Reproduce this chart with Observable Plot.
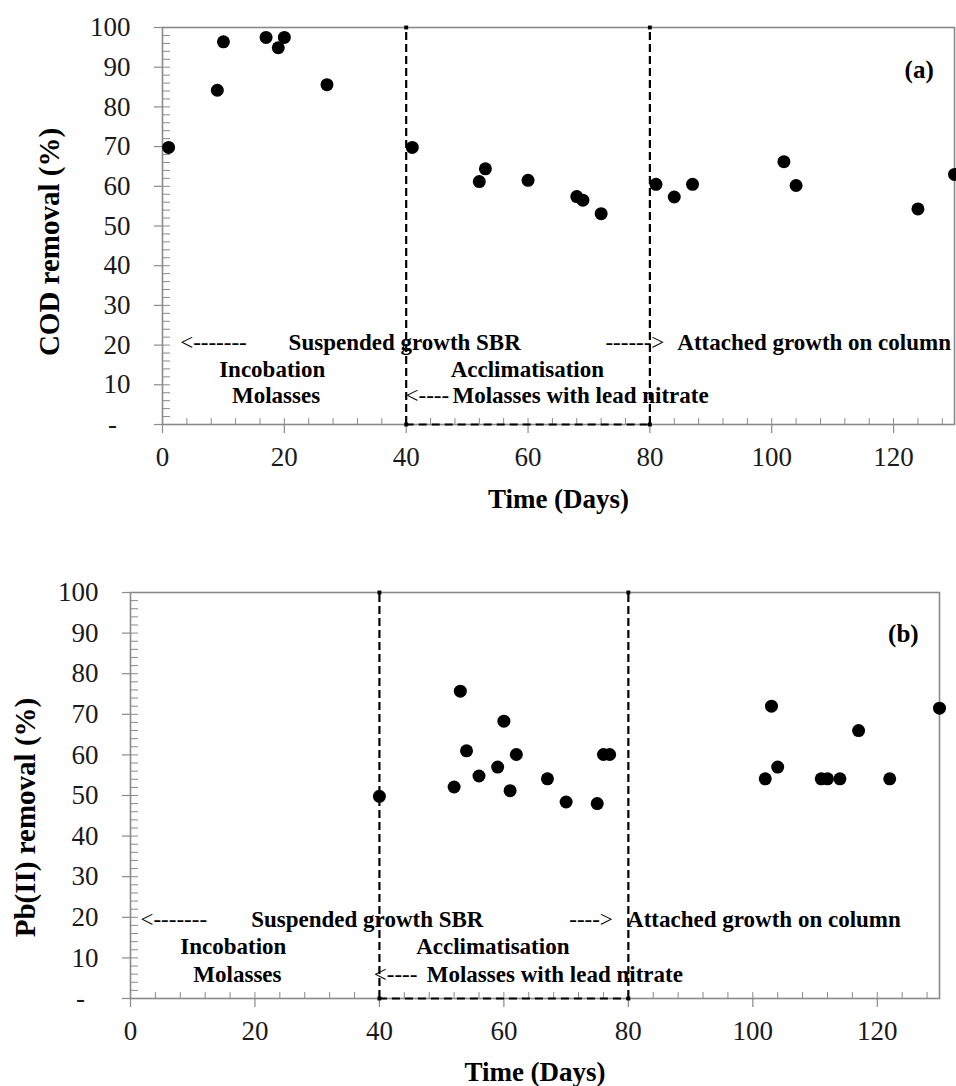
<!DOCTYPE html>
<html>
<head>
<meta charset="utf-8">
<script src="https://cdn.jsdelivr.net/npm/d3@7"></script>
<script src="https://cdn.jsdelivr.net/npm/@observablehq/plot@0.6"></script>
<style>
  html, body { margin: 0; padding: 0; background: #ffffff; }
  #chart svg { display: block; }
</style>
</head>
<body>
<div id="chart"></div>
<script>
// ---- Data ----
const codDays    = [1, 9, 10, 17, 19, 20, 27, 41, 52, 53, 60, 68, 69, 72, 81, 84, 87, 102, 104, 124, 130];
const codRemoval = [69.8, 84.2, 96.4, 97.5, 94.9, 97.5, 85.6, 69.8, 61.2, 64.4, 61.5, 57.4, 56.5, 53.1, 60.5, 57.3, 60.5, 66.2, 60.2, 54.3, 63.0];

const pbDays    = [40, 52, 53, 54, 56, 59, 60, 61, 62, 67, 70, 75, 76, 77, 102, 103, 104, 111, 112, 114, 117, 122, 130];
const pbRemoval = [49.8, 52.1, 75.7, 61.0, 54.8, 57.0, 68.3, 51.2, 60.1, 54.1, 48.4, 48.0, 60.1, 60.1, 54.1, 72.0, 57.0, 54.1, 54.1, 54.1, 66.0, 54.1, 71.5];

const phaseBoundaries = [40, 80];
const xTicks = [0, 20, 40, 60, 80, 100, 120];
const xMinorTicks = d3.range(0, 131, 4);
const yTicks = [0, 10, 20, 30, 40, 50, 60, 70, 80, 90, 100];
const yTickLabels = ["-\u2002", "10", "20", "30", "40", "50", "60", "70", "80", "90", "100"];
const yMinorTicks = d3.range(0, 101, 2);

// annotation texts (phase descriptions), data coordinates
const codBoldNotes = [
  {text: "Suspended growth SBR", x: 20.7, y: 20.5},
  {text: "Attached growth on column", x: 84.5, y: 20.5},
  {text: "Incobation", x: 9.3, y: 13.9},
  {text: "Molasses", x: 11.4, y: 7.2},
  {text: "Acclimatisation", x: 47.3, y: 13.9},
  {text: "Molasses with lead nitrate", x: 47.6, y: 7.2}
];
const codArrowNotes = [
  {text: "<-------", x: 2.9, y: 20.5},
  {text: "------>", x: 72.7, y: 20.5},
  {text: "<----", x: 39.9, y: 7.2}
];
const pbBoldNotes = [
  {text: "Suspended growth SBR", x: 19.4, y: 19.4},
  {text: "Attached growth on column", x: 79.8, y: 19.4},
  {text: "Incobation", x: 8.0, y: 12.7},
  {text: "Molasses", x: 10.1, y: 6.0},
  {text: "Acclimatisation", x: 45.9, y: 12.7},
  {text: "Molasses with lead nitrate", x: 47.6, y: 6.0}
];
const pbArrowNotes = [
  {text: "<-------", x: 1.6, y: 19.4},
  {text: "---->", x: 70.5, y: 19.4},
  {text: "<----", x: 39.1, y: 6.0}
];

// ---- Styling ----
const GREY = "#8a8a8a";
const INK = "#1a1a1a";
const FONT = "'Liberation Serif', 'Times New Roman', serif";

function panel(cfg) {
  const pts = cfg.days.map((d, i) => ({day: d, value: cfg.values[i]}));
  const corners = phaseBoundaries.flatMap(b => [{x: b, y: 0}, {x: b, y: 100}]);
  return Plot.plot({
    width: 956,
    height: cfg.height,
    marginLeft: cfg.marginLeft,
    marginRight: cfg.marginRight,
    marginTop: cfg.marginTop,
    marginBottom: cfg.marginBottom,
    style: {fontFamily: FONT, background: "#ffffff", color: INK, overflow: "hidden"},
    x: {domain: [0, 130]},
    y: {domain: [0, 100]},
    marks: [
      Plot.frame({stroke: GREY, strokeWidth: 1.6}),
      // minor ticks (inside)
      Plot.axisY(yMinorTicks, {tickSize: 8, dx: 8, stroke: GREY, strokeWidth: 1, fill: "none", label: null}),
      Plot.axisX(xMinorTicks, {tickSize: 6, dy: -6, stroke: GREY, strokeWidth: 1, fill: "none", label: null}),
      // major ticks (outside)
      Plot.axisY(yTicks, {tickSize: 8, stroke: GREY, strokeWidth: 1.2, fill: "none", label: null}),
      Plot.axisX(xTicks, {tickSize: 9, stroke: GREY, strokeWidth: 1.2, fill: "none", label: null}),
      // tick labels
      Plot.text(yTicks, {y: d => d, text: (d, i) => yTickLabels[i], frameAnchor: "left", dx: -32,
        textAnchor: "end", lineAnchor: "middle", fontSize: 27, fill: INK}),
      Plot.text(xTicks, {x: d => d, text: d => String(d), frameAnchor: "bottom", dy: 33,
        textAnchor: "middle", lineAnchor: "middle", fontSize: 27, fill: INK}),
      // phase boundaries (dashed)
      Plot.ruleX(phaseBoundaries, {y1: 0, y2: 100, stroke: "black", strokeWidth: 2.2, strokeDasharray: "8,4"}),
      Plot.ruleY([0], {x1: phaseBoundaries[0], x2: phaseBoundaries[1], stroke: "black", strokeWidth: 2.2, strokeDasharray: "8,5"}),
      Plot.dot(corners, {x: "x", y: "y", r: 2.2, symbol: "square", fill: "black"}),
      // annotations
      Plot.text(cfg.arrowNotes, {x: "x", y: "y", text: "text", textAnchor: "start", lineAnchor: "middle",
        fontSize: 23, fill: "black"}),
      Plot.text(cfg.boldNotes, {x: "x", y: "y", text: "text", textAnchor: "start", lineAnchor: "middle",
        fontSize: 23, fontWeight: "bold", fill: "black"}),
      Plot.text([cfg.tag], {x: () => cfg.tagX, y: () => cfg.tagY, text: d => d, fontSize: 25,
        fontWeight: "bold", fill: "black", lineAnchor: "middle"}),
      // data
      Plot.dot(pts, {x: "day", y: "value", r: 6.5, fill: "black", stroke: "none"}),
      // axis titles
      Plot.text([cfg.yLabel], {frameAnchor: "left", text: d => d, rotate: -90, dx: cfg.yLabelDx, dy: cfg.yLabelDy,
        textAnchor: "middle", lineAnchor: "middle", fontSize: 29, fontWeight: "bold", fill: "black"}),
      Plot.text(["Time (Days)"], {frameAnchor: "bottom", text: d => d, dy: cfg.xLabelDy,
        textAnchor: "middle", lineAnchor: "middle", fontSize: 27, fontWeight: "bold", fill: "black"})
    ]
  });
}

const topPanel = panel({
  days: codDays, values: codRemoval,
  height: 545, marginLeft: 162, marginRight: 2, marginTop: 27, marginBottom: 121,
  boldNotes: codBoldNotes, arrowNotes: codArrowNotes,
  tag: "(a)", tagX: 124.2, tagY: 89.2,
  yLabel: "COD removal (%)", yLabelDx: -113, yLabelDy: 16, xLabelDy: 75
});

const bottomPanel = panel({
  days: pbDays, values: pbRemoval,
  height: 541, marginLeft: 130, marginRight: 17, marginTop: 47, marginBottom: 88,
  boldNotes: pbBoldNotes, arrowNotes: pbArrowNotes,
  tag: "(b)", tagX: 124.2, tagY: 89.9,
  yLabel: "Pb(II) removal (%)", yLabelDx: -105, yLabelDy: 22, xLabelDy: 74
});

const chart = document.getElementById("chart");
chart.appendChild(topPanel);
chart.appendChild(bottomPanel);
</script>
</body>
</html>
